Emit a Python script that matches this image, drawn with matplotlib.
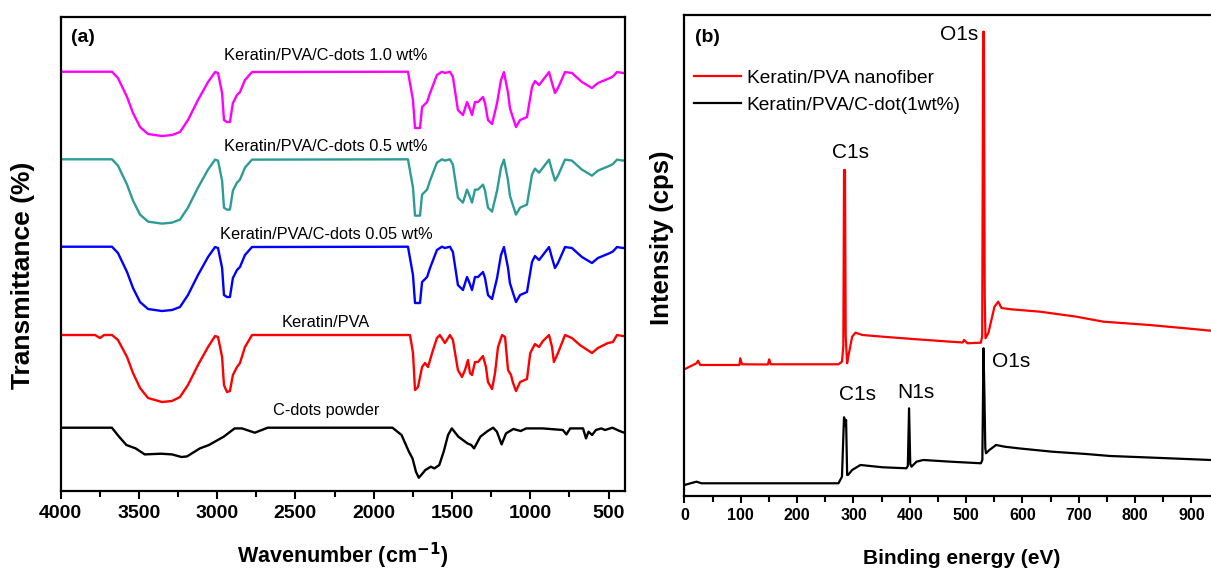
import matplotlib
matplotlib.use("Agg")
import numpy as np
import matplotlib.pyplot as plt
from matplotlib.ticker import MultipleLocator, FixedLocator

plt.rcParams["font.family"] = ["Liberation Sans", "DejaVu Sans"]

# ---- (a) FTIR spectra: wavenumber (cm-1) vs band depth below each baseline ----
wn_kpc = [4000, 3671, 3633, 3575, 3537, 3492, 3441, 3352, 3288, 3237, 3186, 3122, 3058,
          3013, 2994, 2968, 2956, 2937, 2918, 2899, 2873, 2854, 2822, 2777, 1781, 1749,
          1736, 1704, 1691, 1659, 1640, 1596, 1564, 1545, 1513, 1494, 1462, 1430, 1404,
          1391, 1372, 1353, 1334, 1302, 1289, 1270, 1244, 1212, 1187, 1168, 1142, 1130,
          1110, 1091, 1065, 1021, 989, 970, 944, 919, 880, 861, 842, 823, 778, 734, 670,
          606, 568, 491, 472, 446, 408, 393]
depth_kpc = [0, 0, 6.3, 25.3, 41.3, 55.3, 62.3, 64.3, 63.3, 60.3, 48.3, 28.3, 10.3,
             0.3, 1.3, 21.3, 48.3, 50.3, 50.3, 31.3, 23.3, 20.3, 8.3, 0.3, 0, 28.3,
             56.3, 56.3, 35.3, 30.3, 21.3, 3.3, 0, 1.3, 0, 5.3, 38.3, 43.3, 30.3,
             35, 43.3, 30.3, 30.3, 25.3, 31.3, 48.3, 52.3, 31.3, 8.3, 0.3, 21.3, 36.3,
             46.3, 55.3, 48.3, 45.3, 15.3, 9.3, 13.3, 8.3, 0.3, 11.3, 21.3, 16.3, 0.3, 1.3, 10.3,
             16.3, 11.3, 6.3, 4.7, 0.3, 1.3, 1.0]

wn_kp = [4000, 3779, 3748, 3722, 3671, 3633, 3575, 3537, 3492, 3441, 3352, 3288, 3237,
         3186, 3122, 3058, 3013, 2994, 2968, 2956, 2937, 2918, 2899, 2873, 2854, 2822,
         2777, 1781, 1768, 1749, 1736, 1717, 1691, 1672, 1653, 1627, 1596, 1577, 1545,
         1513, 1494, 1462, 1436, 1417, 1398, 1385, 1372, 1353, 1334, 1302, 1283, 1270,
         1244, 1225, 1206, 1180, 1161, 1142, 1123, 1110, 1091, 1065, 1021, 1000, 970,
         944, 919, 880, 861, 849, 823, 778, 734, 683, 606, 568, 504, 472, 446, 408, 393]
depth_kp = [0, 0, 3, 0, 0, 5, 22, 38, 53, 63, 67, 66, 62,
            50, 30, 12, 1, 2, 22, 50, 57, 56, 40, 32, 28, 12,
            0, 0, 0, 18, 55, 52, 32, 28, 32, 18, 3, 0, 8,
            0, 5, 35, 42, 35, 25, 38, 40, 27, 27, 21, 32, 47,
            54, 38, 12, 0, 2, 35, 40, 48, 56, 47, 44, 18, 9,
            12, 6, 0, 12, 27, 18, 0, 3, 10, 18, 13, 8, 7, 0, 1, 1]

wn_cd = [4000, 3672, 3626, 3579, 3520, 3462, 3358, 3288, 3227, 3192, 3110, 3052, 2958,
         2888, 2841, 2759, 2677, 1880, 1822, 1775, 1752, 1730, 1712, 1693, 1670, 1635,
         1612, 1581, 1553, 1525, 1501, 1459, 1401, 1377, 1359, 1319, 1272, 1237, 1213,
         1183, 1155, 1108, 1061, 1026, 921, 792, 769, 745, 663, 644, 628, 605, 581,
         546, 523, 476, 429, 406, 393]
depth_cd = [0, 0, 9, 17.3, 20.7, 26.7, 26, 26.7, 29.3, 28.7, 20.7, 17.3, 9,
            0.7, 0.7, 5, 0, 0, 7.3, 24, 30.7, 44, 50, 46.7, 42.3, 39,
            40.7, 37.3, 24, 7.3, 0.7, 9, 15.7, 17.3, 20.7, 9, 3.3, 0, 4,
            16.7, 5.7, 1.3, 3.3, 0.7, 0.7, 2.3, 6.7, 0.7, 0.7, 10.7, 4, 7.3, 2.3,
            0.7, 2.3, 0, 3.3, 4.7, 5]

ftir_names = ["Keratin/PVA/C-dots 1.0 wt%", "Keratin/PVA/C-dots 0.5 wt%",
              "Keratin/PVA/C-dots 0.05 wt%", "Keratin/PVA", "C-dots powder"]
ftir_wn = [wn_kpc, wn_kpc, wn_kpc, wn_kp, wn_cd]
ftir_depth = [depth_kpc, depth_kpc, depth_kpc, depth_kp, depth_cd]
ftir_colors = ["#FF00FF", "#2E9C96", "#0000FF", "#FF0000", "#000000"]
ftir_base = [419.3, 331.7, 244.3, 156.0, 63.3]
ftir_label_dy = [16, 13, 12, 13, 17.5]

# ---- (b) XPS survey: binding energy (eV) vs intensity ----
be_kp = [0, 21.3, 24.1, 28, 51.5, 97.6, 99, 102.3, 148, 150.4, 153, 171.5, 273.4, 279.6,
         282, 283.3, 285, 286.2, 288.7, 291, 297.7, 303.6, 315.8, 351.5, 411.9, 472.2,
         494, 496.2, 502.4, 526.2, 528.5, 530.2, 531.5, 533, 534.3, 539.5, 550.3, 556.9,
         562.8, 579.4, 631.3, 695.9, 743.6, 825.2, 889.4, 933.8]
int_kp = [126.7, 132.7, 135.3, 131, 131, 131, 137.7, 131.7, 131.5, 136.7, 131.7, 131.7, 131.7, 134.3,
          150, 326, 326, 160, 132.7, 140, 159.3, 163.3, 161, 159.3, 156.7, 154.3,
          153.5, 156, 152.7, 153.3, 160, 464.3, 464.3, 200, 157.7, 163, 189.3, 194.3,
          188, 186.7, 184.3, 179.3, 174.3, 171, 167.7, 165.3]

be_kpc = [0, 21.3, 30, 171.5, 273.4, 279.6, 283.2, 284.8, 285.8, 286.9, 288.8, 290.4, 297.7,
          312.4, 351.5, 393.9, 396.5, 398.7, 400.8, 403, 411.9, 423.9, 472.2, 526.2, 528.8,
          530.8, 532.5, 534, 535.2, 541.3, 553.2, 568.1, 592.2, 652.4, 712.6, 755.3, 832.6, 933.8]
int_kpc = [11, 14.3, 12.7, 12.7, 12.7, 19.3, 78.7, 76, 70, 76, 21, 21, 26,
           31, 28.7, 27.7, 30, 87.7, 32, 29.3, 34.3, 36, 34.3, 32.7, 36,
           147.7, 100, 48, 42.7, 46, 51, 49.3, 47.7, 44.3, 42, 40, 38.3, 36]

be_ticks = [0, 100, 200, 300, 400, 500, 600, 700, 800, 900]

fig = plt.figure(figsize=(12.11, 5.72), dpi=100)

# panel (a)
ax1 = fig.add_axes([0.04996, 0.1416, 0.4664, 0.8295])
for name, wn, dep, col, base, dy in zip(ftir_names, ftir_wn, ftir_depth, ftir_colors,
                                        ftir_base, ftir_label_dy):
    ax1.plot(wn, base - np.array(dep), color=col, lw=1.7, solid_joinstyle="round")
    ax1.text(2305, base + dy, name, ha="center", va="center", fontsize=11.8)
ax1.set_xlim(4000, 393)
ax1.set_ylim(0, 474.5)
ax1.set_yticks([])
ax1.xaxis.set_major_locator(MultipleLocator(500))
ax1.xaxis.set_minor_locator(MultipleLocator(250))
ax1.tick_params(axis="x", which="major", length=6, width=1.5, labelsize=14, pad=4)
ax1.tick_params(axis="x", which="minor", length=4, width=1.5)
for lab in ax1.get_xticklabels():
    lab.set_fontweight("bold")
for sp in ax1.spines.values():
    sp.set_linewidth(1.6)
ax1.text(0.04, 0.955, "(a)", transform=ax1.transAxes, ha="center", va="center",
         fontsize=14, fontweight="bold")

# panel (b)
ax2 = fig.add_axes([0.5652, 0.1329, 0.4652, 0.8409])
ax2.plot(be_kp, int_kp, color="#FF0000", lw=1.6, label="Keratin/PVA nanofiber")
ax2.plot(be_kpc, int_kpc, color="#000000", lw=1.6, label="Keratin/PVA/C-dot(1wt%)")
ax2.set_xlim(0, 1000)
ax2.set_ylim(0, 481)
ax2.set_yticks([])
ax2.xaxis.set_major_locator(FixedLocator(be_ticks))
ax2.xaxis.set_minor_locator(MultipleLocator(50))
ax2.tick_params(axis="x", which="major", length=5, width=1.5, labelsize=11.5, pad=4)
ax2.tick_params(axis="x", which="minor", length=4, width=1.5)
for lab in ax2.get_xticklabels():
    lab.set_fontweight("bold")
for sp in ax2.spines.values():
    sp.set_linewidth(1.6)
ax2.text(0.04, 0.954, "(b)", transform=ax2.transAxes, ha="center", va="center",
         fontsize=14, fontweight="bold")
ax2.legend(loc="upper left", bbox_to_anchor=(0.017, 0.887), frameon=False, fontsize=13.8,
           handlelength=2.45, handletextpad=0.3, labelspacing=0.52, borderpad=0,
           borderaxespad=0)

peak_fs = 15
ax2.text(488, 461, "O1s", ha="center", va="center", fontsize=peak_fs)
ax2.text(294.7, 343, "C1s", ha="center", va="center", fontsize=peak_fs)
ax2.text(307, 101, "C1s", ha="center", va="center", fontsize=peak_fs)
ax2.text(410, 103, "N1s", ha="center", va="center", fontsize=peak_fs)
ax2.text(579, 134, "O1s", ha="center", va="center", fontsize=peak_fs)

# axis titles
fig.text(343 / 1211, 1 - 556 / 572, "Wavenumber (cm$^{\\mathbf{-1}}$)", ha="center",
         va="center", fontsize=15.5, fontweight="bold")
fig.text(962 / 1211, 1 - 558 / 572, "Binding energy (eV)", ha="center", va="center",
         fontsize=15, fontweight="bold")
fig.text(23 / 1211, 1 - 275 / 572, "Transmittance (%)", ha="center", va="center",
         rotation=90, fontsize=19, fontweight="bold")
fig.text(662 / 1211, 1 - 238 / 572, "Intensity (cps)", ha="center", va="center",
         rotation=90, fontsize=18.5, fontweight="bold")

fig.savefig("out.png", dpi=100)
